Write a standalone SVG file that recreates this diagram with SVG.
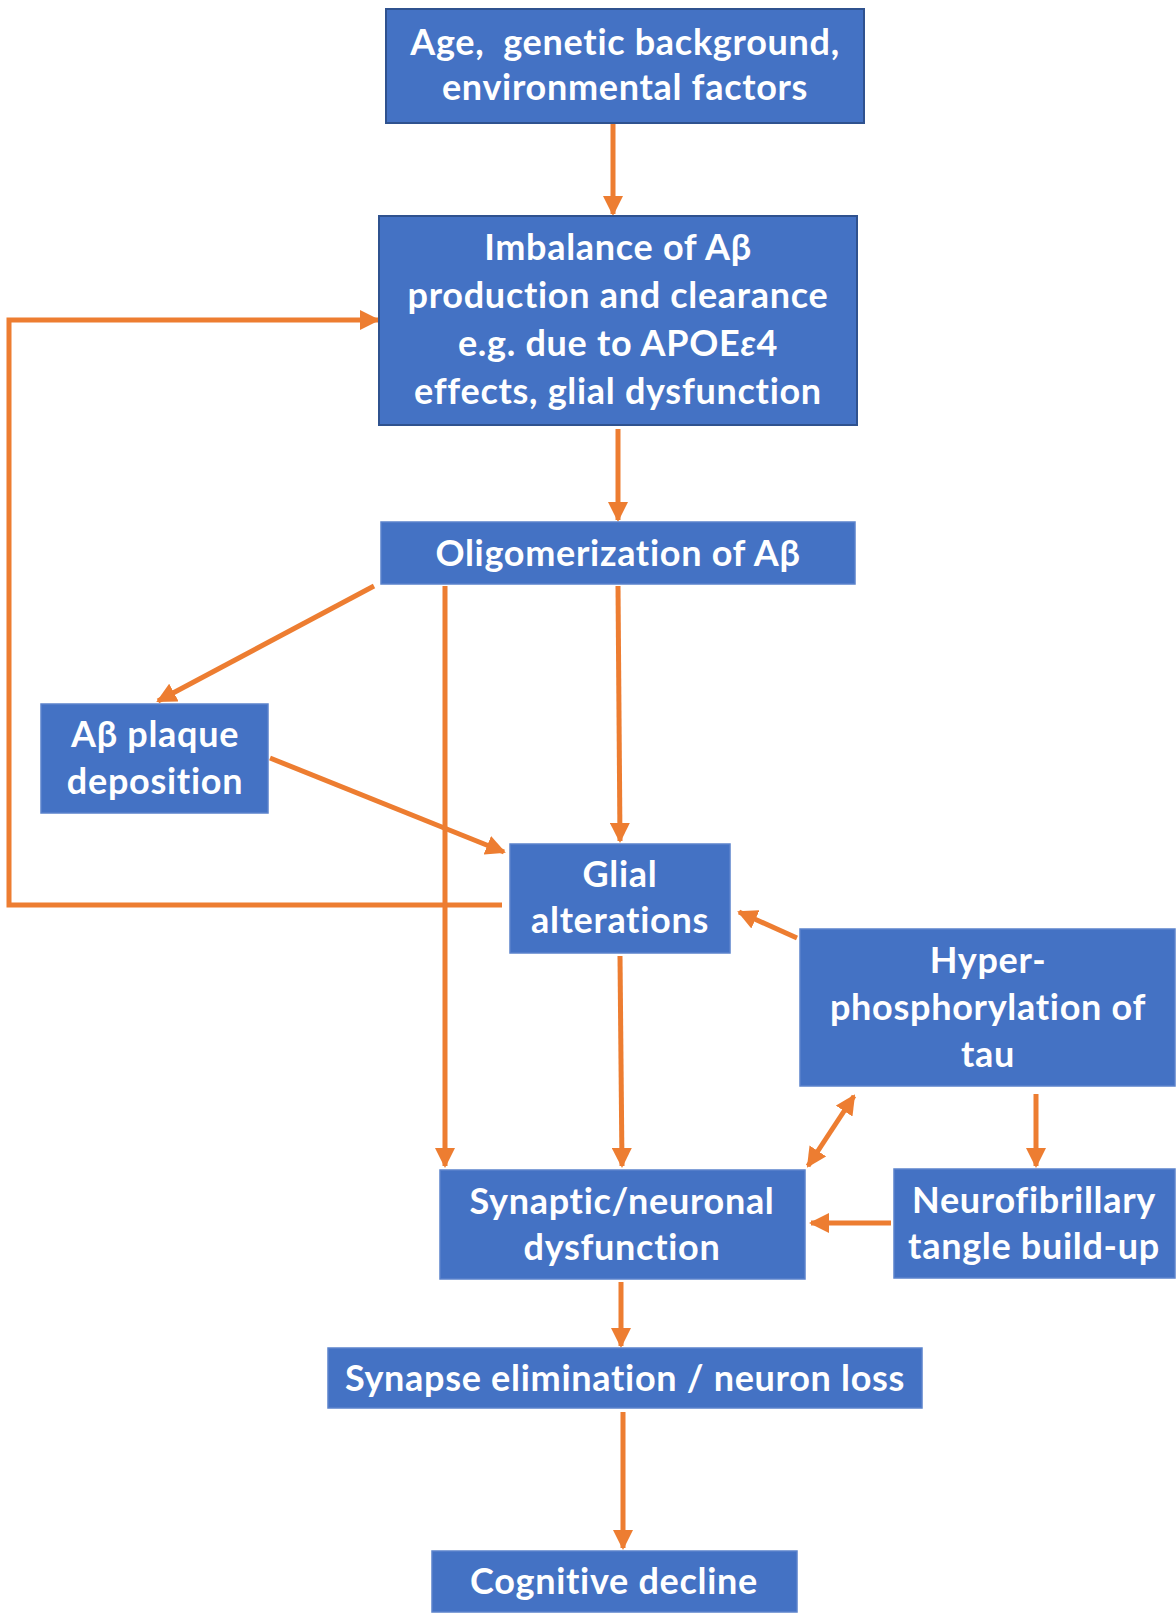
<svg xmlns="http://www.w3.org/2000/svg" width="1176" height="1618" viewBox="0 0 1176 1618">
<style>
.box{fill:#4472C4;stroke:#5B83CC;stroke-width:1.5}
.dark{stroke:#2F528F;stroke-width:2}
.t{font-family:Lato,"Liberation Sans",sans-serif;font-weight:bold;font-size:36px;letter-spacing:0.7px;fill:#FFFFFF;text-anchor:middle}
.c{fill:none;stroke:#ED7D31;stroke-width:5}
</style>
<defs>
<marker id="ah" markerUnits="userSpaceOnUse" markerWidth="20" markerHeight="20" refX="18" refY="10" orient="auto-start-reverse" viewBox="0 0 20 20">
<path d="M0,0 L20,10 L0,20 z" fill="#ED7D31"/>
</marker>
</defs>
<rect width="1176" height="1618" fill="#FFFFFF"/>
<g id="connectors">
<path class="c" d="M613,123 L613,214" marker-end="url(#ah)"/>
<path class="c" d="M618,429 L618,520" marker-end="url(#ah)"/>
<path class="c" d="M502,905 L9,905 L9,320 L378,320" marker-end="url(#ah)"/>
<path class="c" d="M374,586 L158,701" marker-end="url(#ah)"/>
<path class="c" d="M445,586 L445,1166" marker-end="url(#ah)"/>
<path class="c" d="M618,586 L620,841" marker-end="url(#ah)"/>
<path class="c" d="M270,758 L504,852" marker-end="url(#ah)"/>
<path class="c" d="M797,938 L739,912" marker-end="url(#ah)"/>
<path class="c" d="M620,956 L622,1166" marker-end="url(#ah)"/>
<path class="c" d="M854,1096 L808,1166" marker-start="url(#ah)" marker-end="url(#ah)"/>
<path class="c" d="M1036,1094 L1036,1166" marker-end="url(#ah)"/>
<path class="c" d="M891,1223 L811,1223" marker-end="url(#ah)"/>
<path class="c" d="M621,1282 L621,1346" marker-end="url(#ah)"/>
<path class="c" d="M623,1412 L623,1548" marker-end="url(#ah)"/>
</g>
<g id="n-age">
<rect class="box dark" x="386" y="9" width="478" height="114"/>
<text class="t" x="625" y="55">Age,&#160; genetic background,</text>
<text class="t" x="625" y="100">environmental factors</text>
</g>
<g id="n-imbalance">
<rect class="box dark" x="379" y="216" width="478" height="209"/>
<text class="t" x="618" y="260">Imbalance of Aβ</text>
<text class="t" x="618" y="308">production and clearance</text>
<text class="t" x="618" y="356">e.g. due to APOE<tspan font-style="italic">ε</tspan>4</text>
<text class="t" x="618" y="404">effects, glial dysfunction</text>
</g>
<g id="n-oligo">
<rect class="box" x="381" y="522" width="474" height="62"/>
<text class="t" x="618" y="566">Oligomerization of Aβ</text>
</g>
<g id="n-plaque">
<rect class="box" x="41" y="704" width="227" height="109"/>
<text class="t" x="155" y="747">Aβ plaque</text>
<text class="t" x="155" y="794">deposition</text>
</g>
<g id="n-glial">
<rect class="box" x="510" y="844" width="220" height="109"/>
<text class="t" x="620" y="887">Glial</text>
<text class="t" x="620" y="933">alterations</text>
</g>
<g id="n-hyper">
<rect class="box" x="800" y="929" width="375" height="157"/>
<text class="t" x="988" y="973">Hyper-</text>
<text class="t" x="988" y="1020">phosphorylation of</text>
<text class="t" x="988" y="1067">tau</text>
</g>
<g id="n-synaptic">
<rect class="box" x="440" y="1170" width="365" height="109"/>
<text class="t" x="622" y="1214">Synaptic/neuronal</text>
<text class="t" x="622" y="1260">dysfunction</text>
</g>
<g id="n-nft">
<rect class="box" x="894" y="1169" width="281" height="109"/>
<text class="t" x="1034" y="1213">Neurofibrillary</text>
<text class="t" x="1034" y="1259">tangle build-up</text>
</g>
<g id="n-elim">
<rect class="box" x="328" y="1348" width="594" height="60"/>
<text class="t" x="625" y="1391">Synapse elimination / neuron loss</text>
</g>
<g id="n-cog">
<rect class="box" x="432" y="1551" width="365" height="61"/>
<text class="t" x="614" y="1594">Cognitive decline</text>
</g>
</svg>
